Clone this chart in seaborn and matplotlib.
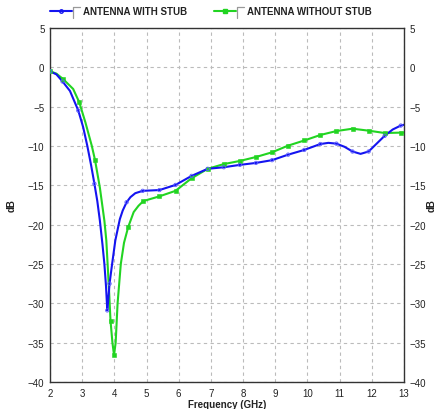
import matplotlib
matplotlib.use("Agg")
import matplotlib.pyplot as plt
import seaborn as sns
import pandas as pd
from matplotlib.lines import Line2D

# ---- data ----
freq_with = [2.0, 2.2, 2.39, 2.62, 2.88, 3.03, 3.16, 3.28, 3.38, 3.47, 3.55, 3.63, 3.69, 3.74, 3.78,
             3.81, 3.85, 3.93, 4.03, 4.17, 4.26, 4.38, 4.5, 4.65, 4.88, 5.4, 5.9, 6.4,
             6.9, 7.4, 7.9, 8.4, 8.9, 9.4, 9.9, 10.4, 10.65, 10.9, 11.15, 11.4, 11.65, 11.9,
             12.15, 12.4, 12.65, 12.9, 13.0]
db_with = [-0.5, -0.9, -1.8, -3.0, -5.5, -7.6, -10.0, -12.5, -14.8, -17.0, -19.5, -22.5, -25.0, -27.8, -30.9,
           -29.6, -27.5, -25.0, -22.0, -19.3, -18.2, -17.15, -16.5, -16.0, -15.7, -15.6, -14.95, -13.8,
           -12.9, -12.7, -12.4, -12.15, -11.8, -11.1, -10.5, -9.75, -9.6, -9.7, -10.1, -10.7, -11.0, -10.7,
           -9.7, -8.7, -7.9, -7.4, -7.3]
mark_with = [1, 0, 1, 0, 1, 0, 0, 0, 1, 0, 0, 0, 0, 0, 1,
             0, 1, 0, 0, 0, 0, 1, 0, 0, 1, 1, 1, 1,
             1, 1, 1, 1, 1, 1, 1, 1, 0, 1, 0, 1, 0, 1,
             0, 1, 0, 1, 0]

freq_without = [2.0, 2.2, 2.41, 2.72, 2.91, 3.1, 3.3, 3.4, 3.55, 3.69, 3.75, 3.79, 3.84, 3.88, 3.94, 3.99,
                4.04, 4.1, 4.2, 4.3, 4.43, 4.6, 4.75, 4.9, 5.4, 5.9, 6.4, 6.9, 7.4,
                7.9, 8.4, 8.9, 9.4, 9.9, 10.4, 10.9, 11.4, 11.9, 12.4, 12.9, 13.0]
db_without = [-0.5, -0.8, -1.5, -2.75, -4.45, -7.0, -10.0, -11.8, -15.3, -19.5, -22.0, -25.0, -28.8, -32.2, -35.0, -36.6,
              -35.0, -30.0, -25.0, -22.3, -20.3, -18.4, -17.6, -17.0, -16.4, -15.7, -14.1, -12.9, -12.3,
              -11.9, -11.4, -10.8, -9.95, -9.3, -8.6, -8.1, -7.8, -8.05, -8.35, -8.3, -8.3]
mark_without = [1, 0, 1, 0, 1, 0, 0, 1, 0, 0, 0, 0, 0, 1, 0, 1,
                0, 0, 0, 0, 1, 0, 0, 1, 1, 1, 1, 1, 1,
                1, 1, 1, 1, 1, 1, 1, 1, 1, 1, 1, 0]

x_ticks = list(range(2, 14))
y_ticks = list(range(-40, 6, 5))
series_names = ["ANTENNA WITH STUB", "ANTENNA WITHOUT STUB"]

BLUE = "#1414f0"
GREEN = "#22d422"

sns.set_theme(style="white")
plt.rcParams["font.family"] = ["Liberation Sans", "DejaVu Sans"]

fig = plt.figure(figsize=(4.4, 4.1), dpi=100)
ax = fig.add_axes([50 / 440, 1 - 383 / 410, (404 - 50) / 440, (383 - 29) / 410])

df_w = pd.DataFrame({"f": freq_with, "db": db_with, "m": mark_with})
df_wo = pd.DataFrame({"f": freq_without, "db": db_without, "m": mark_without})

sns.lineplot(data=df_wo, x="f", y="db", color=GREEN, lw=1.5, sort=False, ax=ax)
sns.scatterplot(data=df_wo[df_wo.m == 1], x="f", y="db", color=GREEN, marker="s",
                s=5, edgecolor=GREEN, linewidth=0.4, ax=ax, zorder=3)
sns.lineplot(data=df_w, x="f", y="db", color=BLUE, lw=1.5, sort=False, ax=ax)
sns.scatterplot(data=df_w[df_w.m == 1], x="f", y="db", color="none", marker="o",
                s=6, edgecolor="#5a5aff", linewidth=0.6, ax=ax, zorder=3)

ax.set_xlim(2, 13)
ax.set_ylim(-40, 5)
ax.set_xticks(x_ticks)
ax.set_yticks(y_ticks)
ax.grid(True, ls=(0, (3, 3)), color="#bbbbbb", lw=0.8)
ax.tick_params(axis="both", length=0, labelsize=7, pad=4, colors="#222222")
ax.tick_params(axis="y", right=True, labelright=True)
for s in ax.spines.values():
    s.set_color("#333333")
    s.set_linewidth(1.0)
ax.set_xlabel("")
ax.set_ylabel("")

fig.text(12 / 440, 1 - 206 / 410, "dB", rotation=90, fontsize=7, fontweight="bold",
         ha="center", va="center", color="#222222")
fig.text(432 / 440, 1 - 206 / 410, "dB", rotation=90, fontsize=7, fontweight="bold",
         ha="center", va="center", color="#222222")
fig.text(227 / 440, 1 - 405 / 410, "Frequency (GHz)", fontsize=7, fontweight="bold",
         ha="center", va="center", color="#222222")

# legend (manual, figure coordinates)
def legend_item(x0, color, marker, mfc, label):
    y = 1 - 12 / 410
    fig.add_artist(Line2D([x0 / 440, (x0 + 22) / 440], [y, y], color=color, lw=1.5,
                          transform=fig.transFigure))
    fig.add_artist(Line2D([(x0 + 11) / 440], [y], color=color, marker=marker, ms=2.5,
                          mfc=mfc, mec=color, transform=fig.transFigure))
    bx = (x0 + 23) / 440
    fig.add_artist(Line2D([bx, bx, bx + 7 / 440], [y - 7 / 410, y + 4 / 410, y + 4 / 410],
                          color="#999999", lw=0.9, transform=fig.transFigure))
    fig.text((x0 + 33) / 440, y, label, fontsize=7, fontweight="bold",
             ha="left", va="center", color="#222222")

legend_item(50, BLUE, "o", "none", series_names[0])
legend_item(214, GREEN, "s", GREEN, series_names[1])

fig.savefig("out.png", dpi=100, facecolor="white")
